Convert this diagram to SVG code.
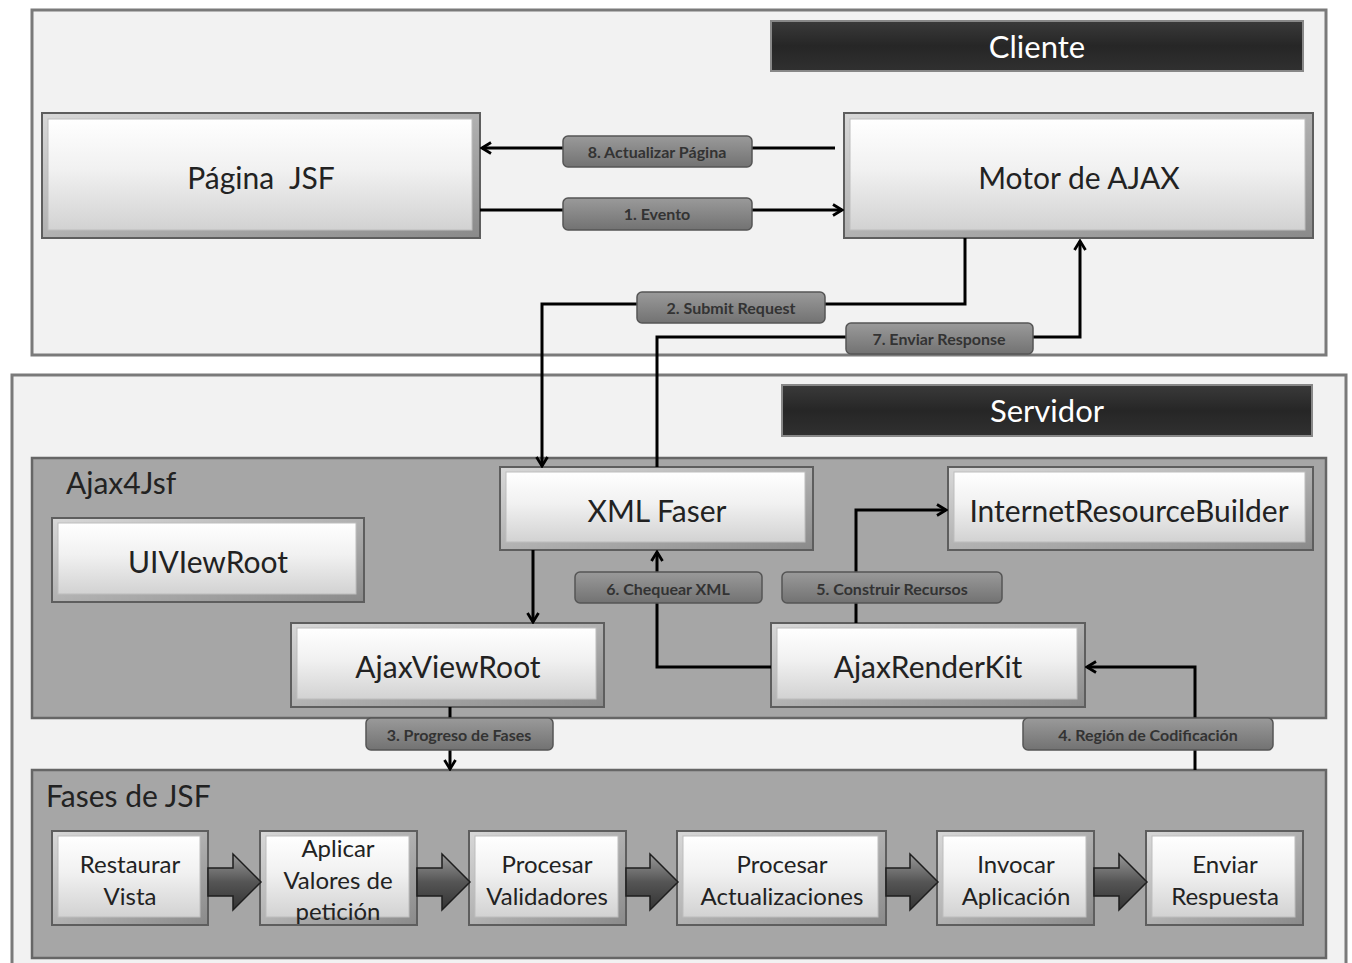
<svg xmlns="http://www.w3.org/2000/svg" width="1352" height="963" viewBox="0 0 1352 963">
<defs>
<linearGradient id="face" x1="0" y1="0" x2="0" y2="1">
<stop offset="0" stop-color="#ffffff"/><stop offset="0.45" stop-color="#f1f1f1"/><stop offset="1" stop-color="#d2d2d2"/>
</linearGradient>
<linearGradient id="frame" x1="0" y1="0" x2="1" y2="1">
<stop offset="0" stop-color="#d8d8d8"/><stop offset="1" stop-color="#8a8a8a"/>
</linearGradient>
<linearGradient id="pill" x1="0" y1="0" x2="0" y2="1">
<stop offset="0" stop-color="#9a9a9a"/><stop offset="0.5" stop-color="#868686"/><stop offset="1" stop-color="#727272"/>
</linearGradient>
<linearGradient id="blk" x1="0" y1="0" x2="0" y2="1">
<stop offset="0" stop-color="#999"/><stop offset="0.5" stop-color="#555"/><stop offset="1" stop-color="#333"/>
</linearGradient>
<linearGradient id="hdr" x1="0" y1="0" x2="0" y2="1">
<stop offset="0" stop-color="#3a3a3a"/><stop offset="0.5" stop-color="#262626"/><stop offset="1" stop-color="#303030"/>
</linearGradient>
<marker id="ah" viewBox="0 0 14 14" refX="12" refY="7" markerWidth="14" markerHeight="14" markerUnits="userSpaceOnUse" orient="auto">
<path d="M3,1.5 L12,7 L3,12.5" fill="none" stroke="#000" stroke-width="2.8" stroke-linejoin="miter"/>
</marker>
<style>
.cont{fill:#f2f2f2;stroke:#7a7a7a;stroke-width:3}
.grp{fill:#a6a6a6;stroke:#666;stroke-width:2.5}
.hdr{fill:url(#hdr);stroke:#888;stroke-width:2}
.hdrt{font-family:Lato,"Liberation Sans",sans-serif;font-size:31px;fill:#fff;text-anchor:middle;dominant-baseline:central}
.out{fill:url(#frame);stroke:#5e5e5e;stroke-width:2}
.in{fill:url(#face);stroke:#bdbdbd;stroke-width:1}
.nt{font-family:Lato,"Liberation Sans",sans-serif;font-size:30px;fill:#222;text-anchor:middle;dominant-baseline:central}
.pt{font-family:Lato,"Liberation Sans",sans-serif;font-size:24px;fill:#222;text-anchor:middle;dominant-baseline:central}
.gt{font-family:Lato,"Liberation Sans",sans-serif;font-size:30px;fill:#222}
.ln{fill:none;stroke:#000;stroke-width:3}
.pl{fill:url(#pill);stroke:#555;stroke-width:1.5}
.lt{font-family:Lato,"Liberation Sans",sans-serif;font-size:16px;font-weight:bold;fill:#333;text-anchor:middle;dominant-baseline:central}
.ba{fill:url(#blk);stroke:#1e1e1e;stroke-width:1.5}
</style>
</defs>
<rect width="1352" height="963" fill="#ffffff"/>

<g id="cliente">
<rect class="cont" x="32" y="10" width="1294" height="345"/>
<rect class="hdr" x="771" y="21" width="532" height="50"/>
<text class="hdrt" x="1037" y="46">Cliente</text>
</g>

<g id="servidor">
<rect class="cont" x="12" y="375" width="1334" height="600"/>
<rect class="hdr" x="782" y="385" width="530" height="51"/>
<text class="hdrt" x="1047" y="410">Servidor</text>
</g>

<g id="ajax4jsf">
<rect class="grp" x="32" y="458" width="1294" height="260"/>
<text class="gt" x="66" y="494">Ajax4Jsf</text>
</g>

<g id="fases">
<rect class="grp" x="32" y="770" width="1294" height="188"/>
<text class="gt" x="46" y="807">Fases de JSF</text>
</g>

<g id="pagina-jsf">
<rect class="out" x="42" y="113" width="438" height="125"/>
<rect class="in" x="48" y="119" width="424" height="111"/>
<text class="nt" x="261" y="177" word-spacing="8">Página JSF</text>
</g>

<g id="motor-ajax">
<rect class="out" x="844" y="113" width="469" height="125"/>
<rect class="in" x="850" y="119" width="455" height="111"/>
<text class="nt" x="1079" y="177">Motor de AJAX</text>
</g>

<g id="xml-faser">
<rect class="out" x="500" y="467" width="313" height="83"/>
<rect class="in" x="506" y="472" width="299" height="70"/>
<text class="nt" x="657" y="510">XML Faser</text>
</g>

<g id="internet-resource-builder">
<rect class="out" x="948" y="467" width="365" height="83"/>
<rect class="in" x="954" y="472" width="351" height="70"/>
<text class="nt" x="1129" y="510">InternetResourceBuilder</text>
</g>

<g id="uiviewroot">
<rect class="out" x="52" y="518" width="312" height="84"/>
<rect class="in" x="58" y="523" width="298" height="71"/>
<text class="nt" x="208" y="561">UIVIewRoot</text>
</g>

<g id="ajaxviewroot">
<rect class="out" x="291" y="623" width="313" height="84"/>
<rect class="in" x="297" y="628" width="299" height="71"/>
<text class="nt" x="448" y="666">AjaxViewRoot</text>
</g>

<g id="ajaxrenderkit">
<rect class="out" x="771" y="623" width="314" height="84"/>
<rect class="in" x="777" y="628" width="300" height="71"/>
<text class="nt" x="928" y="666">AjaxRenderKit</text>
</g>

<g id="restaurar-vista">
<rect class="out" x="52" y="831" width="156" height="94"/>
<rect class="in" x="58" y="836" width="142" height="81"/>
<text class="pt" x="130" y="863">Restaurar</text>
<text class="pt" x="130" y="895">Vista</text>
</g>

<g id="aplicar-valores">
<rect class="out" x="260" y="831" width="157" height="94"/>
<rect class="in" x="266" y="836" width="143" height="81"/>
<text class="pt" x="338" y="847">Aplicar</text>
<text class="pt" x="338" y="879">Valores de</text>
<text class="pt" x="338" y="910">petición</text>
</g>

<g id="procesar-validadores">
<rect class="out" x="469" y="831" width="157" height="94"/>
<rect class="in" x="475" y="836" width="143" height="81"/>
<text class="pt" x="547" y="863">Procesar</text>
<text class="pt" x="547" y="895">Validadores</text>
</g>

<g id="procesar-actualizaciones">
<rect class="out" x="677" y="831" width="209" height="94"/>
<rect class="in" x="683" y="836" width="195" height="81"/>
<text class="pt" x="782" y="863">Procesar</text>
<text class="pt" x="782" y="895">Actualizaciones</text>
</g>

<g id="invocar-aplicacion">
<rect class="out" x="937" y="831" width="157" height="94"/>
<rect class="in" x="943" y="836" width="143" height="81"/>
<text class="pt" x="1016" y="863">Invocar</text>
<text class="pt" x="1016" y="895">Aplicación</text>
</g>

<g id="enviar-respuesta">
<rect class="out" x="1146" y="831" width="157" height="94"/>
<rect class="in" x="1152" y="836" width="143" height="81"/>
<text class="pt" x="1225" y="863">Enviar</text>
<text class="pt" x="1225" y="895">Respuesta</text>
</g>

<g id="connectors">
<path class="ba" d="M208,868 H233 V854 L261,882 L233,910 V896 H208 Z"/>
<path class="ba" d="M417,868 H442 V854 L470,882 L442,910 V896 H417 Z"/>
<path class="ba" d="M626,868 H650 V854 L678,882 L650,910 V896 H626 Z"/>
<path class="ba" d="M886,868 H910 V854 L938,882 L910,910 V896 H886 Z"/>
<path class="ba" d="M1094,868 H1119 V854 L1147,882 L1119,910 V896 H1094 Z"/>

<path class="ln" d="M835,148 H482" marker-end="url(#ah)"/>
<path class="ln" d="M480,210 H842" marker-end="url(#ah)"/>
<path class="ln" d="M965,238 V304 H542 V466" marker-end="url(#ah)"/>
<path class="ln" d="M657,467 V337 H1080 V241" marker-end="url(#ah)"/>
<path class="ln" d="M533,550 V622" marker-end="url(#ah)"/>
<path class="ln" d="M771,667 H657 V552" marker-end="url(#ah)"/>
<path class="ln" d="M856,623 V510 H946" marker-end="url(#ah)"/>
<path class="ln" d="M1195,770 V667 H1087" marker-end="url(#ah)"/>
<path class="ln" d="M450,707 V769" marker-end="url(#ah)"/>

<rect class="pl" x="563" y="136" width="189" height="31" rx="5"/>
<text class="lt" x="657" y="151">8. Actualizar Página</text>
<rect class="pl" x="563" y="198" width="189" height="32" rx="5"/>
<text class="lt" x="657" y="213">1. Evento</text>
<rect class="pl" x="637" y="292" width="188" height="31" rx="5"/>
<text class="lt" x="731" y="307">2. Submit Request</text>
<rect class="pl" x="846" y="323" width="187" height="31" rx="5"/>
<text class="lt" x="939" y="338">7. Enviar Response</text>
<rect class="pl" x="575" y="572" width="187" height="31" rx="5"/>
<text class="lt" x="668" y="588">6. Chequear XML</text>
<rect class="pl" x="782" y="572" width="220" height="31" rx="5"/>
<text class="lt" x="892" y="588">5. Construir Recursos</text>
<rect class="pl" x="366" y="718" width="187" height="32" rx="5"/>
<text class="lt" x="459" y="734">3. Progreso de Fases</text>
<rect class="pl" x="1023" y="718" width="250" height="32" rx="5"/>
<text class="lt" x="1148" y="734">4. Región de Codificación</text>
</g>
</svg>
